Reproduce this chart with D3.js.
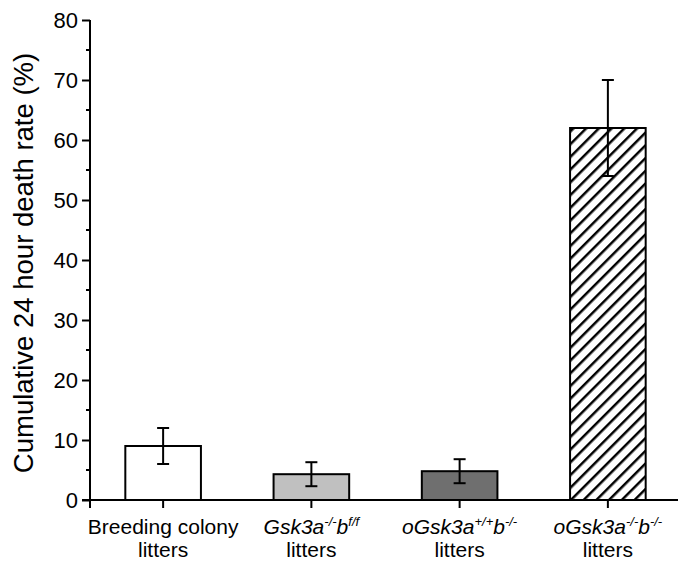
<!DOCTYPE html>
<html>
<head>
<meta charset="utf-8">
<script src="https://cdn.jsdelivr.net/npm/d3@7"></script>
<style>
  body { margin: 0; background: #fff; }
  text { font-family: "Liberation Sans", Arial, sans-serif; fill: #000; }
</style>
</head>
<body>
<div class="chart"></div>
<script>
var svgWidth = 678;
var svgHeight = 563;

// chart data
var groups = ["breeding", "gsk3a", "ogsk3aWT", "ogsk3aKO"];
var means = [9, 4.3, 4.8, 62];
var errLow = [6, 2.3, 2.8, 54];
var errHigh = [12, 6.3, 6.8, 70];
var fills = ["#ffffff", "#c0c0c0", "#6f6f6f", "url(#hatch)"];
var yTicks = [0, 10, 20, 30, 40, 50, 60, 70, 80];

var margin = { top: 20, right: 0, bottom: 63, left: 90 };
var height = svgHeight - margin.top - margin.bottom;

var svg = d3.select(".chart")
  .append("svg")
  .attr("width", svgWidth)
  .attr("height", svgHeight);

// diagonal hatch for the last bar
var pat = svg.append("defs").append("pattern")
  .attr("id", "hatch")
  .attr("patternUnits", "userSpaceOnUse")
  .attr("width", 9)
  .attr("height", 9)
  .attr("patternTransform", "rotate(45)");
pat.append("rect").attr("width", 9).attr("height", 9).attr("fill", "#fff");
pat.append("line")
  .attr("x1", 0).attr("y1", 0).attr("x2", 0).attr("y2", 9)
  .attr("stroke", "#000")
  .attr("stroke-width", 5);

var xScale = d3.scaleBand()
  .domain(groups)
  .range([89, 682])
  .paddingInner(0.49)
  .paddingOuter(0.245);

var yScale = d3.scaleLinear()
  .domain([0, 80])
  .range([margin.top + height, margin.top]);

// bars
svg.selectAll("rect.bar")
  .data(groups)
  .enter()
  .append("rect")
  .attr("class", "bar")
  .attr("x", d => xScale(d))
  .attr("y", (d, i) => yScale(means[i]))
  .attr("width", xScale.bandwidth())
  .attr("height", (d, i) => yScale(0) - yScale(means[i]))
  .attr("fill", (d, i) => fills[i])
  .attr("stroke", "#000")
  .attr("stroke-width", 2);

// error bars
var errG = svg.append("g")
  .attr("stroke", "#000")
  .attr("stroke-width", 2);

groups.forEach(function(d, i) {
  var cx = xScale(d) + xScale.bandwidth() / 2;
  errG.append("line")
    .attr("x1", cx).attr("x2", cx)
    .attr("y1", yScale(errLow[i])).attr("y2", yScale(errHigh[i]));
  [errLow[i], errHigh[i]].forEach(function(v) {
    errG.append("line")
      .attr("x1", cx - 6).attr("x2", cx + 6)
      .attr("y1", yScale(v)).attr("y2", yScale(v));
  });
});

// y axis
var leftAxis = d3.axisLeft(yScale)
  .tickValues(yTicks)
  .tickSize(8)
  .tickPadding(4);

var yAxis = svg.append("g")
  .attr("transform", `translate(${margin.left}, 0)`)
  .call(leftAxis);

yAxis.select(".domain").attr("stroke-width", 2).attr("d", `M0,${yScale(80)}V${yScale(0)}`);
yAxis.selectAll(".tick line").attr("stroke-width", 2);
yAxis.selectAll(".tick text").style("font-size", "22px");

// minor ticks
yAxis.selectAll(".minor")
  .data(d3.range(5, 80, 10))
  .enter()
  .append("line")
  .attr("class", "minor")
  .attr("x1", -4).attr("x2", 0)
  .attr("y1", d => yScale(d)).attr("y2", d => yScale(d))
  .attr("stroke", "#000")
  .attr("stroke-width", 2);

// x axis
var bottomAxis = d3.axisBottom(xScale)
  .tickSize(8)
  .tickFormat("");

var xAxis = svg.append("g")
  .attr("transform", `translate(0, ${yScale(0)})`)
  .call(bottomAxis);

xAxis.select(".domain").attr("stroke-width", 2).attr("d", `M${margin.left - 8},0H${svgWidth}`);
xAxis.selectAll(".tick line").attr("stroke-width", 2);
xAxis.append("line")
  .attr("x1", margin.left).attr("x2", margin.left)
  .attr("y1", 0).attr("y2", 8)
  .attr("stroke", "#000")
  .attr("stroke-width", 2);

// category labels
var labelY1 = yScale(0) + 34;
var labelY2 = yScale(0) + 57;

function center(i) { return xScale(groups[i]) + xScale.bandwidth() / 2; }

var lab = svg.append("g")
  .attr("text-anchor", "middle")
  .style("font-size", "21px");

lab.append("text").attr("x", center(0)).attr("y", labelY1).text("Breeding colony");

function genotype(i, parts) {
  var t = lab.append("text").attr("x", center(i)).attr("y", labelY1).style("font-style", "italic");
  t.append("tspan").text(parts[0]);
  t.append("tspan").attr("dy", -8).style("font-size", "13px").text(parts[1]);
  t.append("tspan").attr("dy", 8).text("b");
  t.append("tspan").attr("dy", -8).style("font-size", "13px").text(parts[2]);
}

genotype(1, ["Gsk3a", "-/-", "f/f"]);
genotype(2, ["oGsk3a", "+/+", "-/-"]);
genotype(3, ["oGsk3a", "-/-", "-/-"]);

groups.forEach(function(d, i) {
  lab.append("text").attr("x", center(i)).attr("y", labelY2).text("litters");
});

// y axis title
svg.append("text")
  .attr("transform", `translate(33, ${(yScale(0) + yScale(80)) / 2 + 3}) rotate(-90)`)
  .attr("text-anchor", "middle")
  .style("font-size", "27.5px")
  .text("Cumulative 24 hour death rate (%)");
</script>
</body>
</html>
